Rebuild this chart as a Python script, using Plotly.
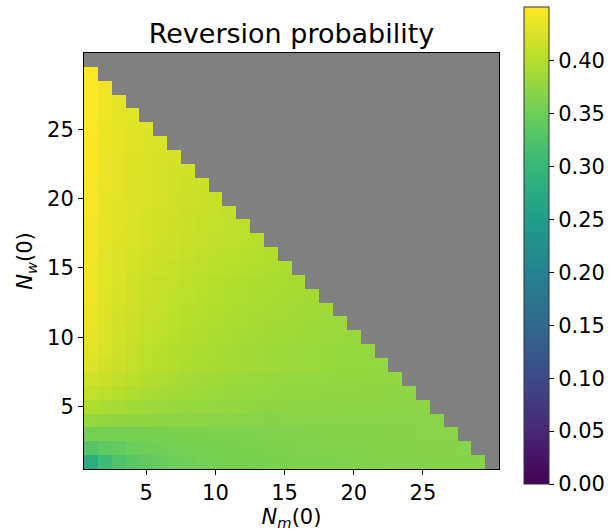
import plotly.graph_objects as go

# Reversion probability, one list per N_w(0) row; entries are N_m(0) = 1, 2, ...
nw01 = [0.280, 0.310, 0.325, 0.333, 0.339, 0.344, 0.348, 0.351, 0.354, 0.356, 0.357, 0.358, 0.359, 0.360, 0.361,
        0.362, 0.363, 0.363, 0.364, 0.364, 0.365, 0.365, 0.366, 0.366, 0.366, 0.367, 0.367, 0.367, 0.368]
nw02 = [0.330, 0.337, 0.342, 0.346, 0.349, 0.352, 0.354, 0.356, 0.357, 0.358, 0.359, 0.360, 0.361, 0.362, 0.363,
        0.364, 0.364, 0.365, 0.365, 0.366, 0.366, 0.367, 0.367, 0.367, 0.368, 0.368, 0.368, 0.369]
nw03 = [0.355, 0.355, 0.356, 0.357, 0.358, 0.359, 0.360, 0.361, 0.361, 0.362, 0.363, 0.363, 0.364, 0.364, 0.365,
        0.365, 0.366, 0.366, 0.367, 0.367, 0.367, 0.368, 0.368, 0.368, 0.369, 0.369, 0.369]
nw04 = [0.380, 0.377, 0.375, 0.375, 0.375, 0.374, 0.373, 0.372, 0.371, 0.370, 0.370, 0.369, 0.369, 0.368, 0.369,
        0.369, 0.369, 0.369, 0.369, 0.369, 0.369, 0.369, 0.369, 0.369, 0.369, 0.369]
nw05 = [0.397, 0.392, 0.390, 0.387, 0.385, 0.383, 0.381, 0.379, 0.379, 0.378, 0.377, 0.376, 0.375, 0.374, 0.374,
        0.373, 0.373, 0.373, 0.372, 0.372, 0.372, 0.372, 0.371, 0.371, 0.371]
nw06 = [0.410, 0.405, 0.401, 0.396, 0.393, 0.390, 0.388, 0.386, 0.384, 0.382, 0.381, 0.380, 0.378, 0.378, 0.377,
        0.376, 0.376, 0.375, 0.375, 0.375, 0.374, 0.374, 0.373, 0.373]
nw07 = [0.420, 0.415, 0.409, 0.404, 0.399, 0.396, 0.393, 0.390, 0.388, 0.387, 0.385, 0.383, 0.382, 0.381, 0.380,
        0.379, 0.378, 0.378, 0.377, 0.377, 0.376, 0.376, 0.376]
nw08 = [0.428, 0.422, 0.416, 0.410, 0.405, 0.401, 0.398, 0.395, 0.393, 0.391, 0.390, 0.388, 0.387, 0.385, 0.384,
        0.383, 0.382, 0.381, 0.380, 0.380, 0.379, 0.378]
nw09 = [0.433, 0.426, 0.419, 0.413, 0.407, 0.403, 0.399, 0.396, 0.394, 0.392, 0.390, 0.388, 0.387, 0.385, 0.384,
        0.383, 0.382, 0.381, 0.380, 0.379, 0.379]
nw10 = [0.436, 0.428, 0.421, 0.415, 0.410, 0.406, 0.402, 0.399, 0.396, 0.394, 0.392, 0.390, 0.389, 0.387, 0.386,
        0.385, 0.384, 0.383, 0.382, 0.381]
nw11 = [0.438, 0.429, 0.422, 0.417, 0.412, 0.408, 0.404, 0.401, 0.398, 0.396, 0.394, 0.392, 0.391, 0.389, 0.388,
        0.387, 0.385, 0.384, 0.383]
nw12 = [0.439, 0.430, 0.424, 0.419, 0.414, 0.410, 0.406, 0.403, 0.400, 0.398, 0.396, 0.394, 0.392, 0.391, 0.390,
        0.388, 0.387, 0.386]
nw13 = [0.440, 0.431, 0.425, 0.420, 0.415, 0.411, 0.408, 0.405, 0.402, 0.400, 0.397, 0.396, 0.394, 0.393, 0.391,
        0.390, 0.389]
nw14 = [0.441, 0.432, 0.426, 0.422, 0.417, 0.413, 0.410, 0.407, 0.404, 0.401, 0.399, 0.397, 0.395, 0.394, 0.393,
        0.391]
nw15 = [0.442, 0.432, 0.427, 0.423, 0.419, 0.415, 0.412, 0.409, 0.407, 0.404, 0.402, 0.400, 0.398, 0.396, 0.395]
nw16 = [0.443, 0.433, 0.428, 0.425, 0.421, 0.418, 0.415, 0.412, 0.409, 0.407, 0.404, 0.402, 0.400, 0.399]
nw17 = [0.444, 0.435, 0.430, 0.427, 0.423, 0.420, 0.417, 0.414, 0.411, 0.409, 0.407, 0.405, 0.403]
nw18 = [0.445, 0.435, 0.431, 0.427, 0.424, 0.421, 0.418, 0.415, 0.413, 0.410, 0.408, 0.406]
nw19 = [0.446, 0.436, 0.431, 0.428, 0.425, 0.422, 0.419, 0.416, 0.414, 0.412, 0.409]
nw20 = [0.447, 0.436, 0.432, 0.429, 0.426, 0.423, 0.420, 0.417, 0.415, 0.413]
nw21 = [0.447, 0.437, 0.433, 0.429, 0.427, 0.424, 0.421, 0.418, 0.416]
nw22 = [0.448, 0.438, 0.433, 0.430, 0.427, 0.424, 0.422, 0.419]
nw23 = [0.448, 0.438, 0.433, 0.430, 0.428, 0.425, 0.423]
nw24 = [0.448, 0.439, 0.434, 0.431, 0.428, 0.426]
nw25 = [0.449, 0.439, 0.434, 0.431, 0.429]
nw26 = [0.449, 0.440, 0.435, 0.432]
nw27 = [0.449, 0.441, 0.435]
nw28 = [0.450, 0.441]
nw29 = [0.451]

rows = [nw01, nw02, nw03, nw04, nw05, nw06, nw07, nw08, nw09, nw10, nw11, nw12, nw13, nw14, nw15,
        nw16, nw17, nw18, nw19, nw20, nw21, nw22, nw23, nw24, nw25, nw26, nw27, nw28, nw29]

nm_values = list(range(1, 31))
nw_values = list(range(1, 31))
tick_vals = [5, 10, 15, 20, 25]
cbar_ticks = [0.00, 0.05, 0.10, 0.15, 0.20, 0.25, 0.30, 0.35, 0.40]

z = []
for r in range(len(nw_values)):
    row = rows[r] if r < len(rows) else []
    z.append([row[c] if c < len(row) else None for c in range(len(nm_values))])

zmax = max(max(r) for r in rows)

FONT = "DejaVu Sans"
W, H = 614, 531
L, R, T, B = 84, 115, 53, 62
PW, PH = W - L - R, H - T - B

fig = go.Figure(go.Heatmap(
    x=nm_values, y=nw_values, z=z,
    colorscale="Viridis", zmin=0, zmax=zmax,
    hoverongaps=False,
    colorbar=dict(
        thickness=25, thicknessmode="pixels",
        len=477 / PH, lenmode="fraction",
        x=(524 - L) / PW, xanchor="left",
        y=(H - B - 7) / PH, yanchor="top",
        xpad=0, ypad=0,
        outlinewidth=1, outlinecolor="#333333",
        tickvals=cbar_ticks, tickformat=".2f",
        ticks="outside", ticklen=5, tickwidth=1, tickcolor="black",
        tickfont=dict(family=FONT, size=21, color="black"),
    ),
))

fig.update_layout(
    width=W, height=H, autosize=False,
    margin=dict(l=L, r=R, t=T, b=B, autoexpand=False),
    paper_bgcolor="white", plot_bgcolor="#808080",
    font=dict(family=FONT, color="black"),
    title=dict(text="Reversion probability", x=(L + PW / 2) / W, xanchor="center",
               y=1 - 34 / H, yanchor="middle", font=dict(family=FONT, size=27, color="black")),
    xaxis=dict(range=[0.5, 30.5], tickvals=tick_vals, ticks="outside", ticklen=5, tickwidth=1,
               tickcolor="black", showgrid=False, zeroline=False, showline=True, mirror=True,
               linecolor="black", linewidth=1, tickfont=dict(family=FONT, size=21),
               title=dict(text="<i>N</i><sub><i>m</i></sub>(0)", font=dict(family=FONT, size=21), standoff=3)),
    yaxis=dict(range=[0.5, 30.5], tickvals=tick_vals, ticks="outside", ticklen=5, tickwidth=1,
               tickcolor="black", showgrid=False, zeroline=False, showline=True, mirror=True,
               linecolor="black", linewidth=1, tickfont=dict(family=FONT, size=21),
               title=dict(text="<i>N</i><sub><i>w</i></sub>(0)", font=dict(family=FONT, size=21), standoff=8)),
)

fig.write_html("out.html", config={"displayModeBar": False},
               post_script="document.body.style.margin='0';document.body.style.padding='0';")
